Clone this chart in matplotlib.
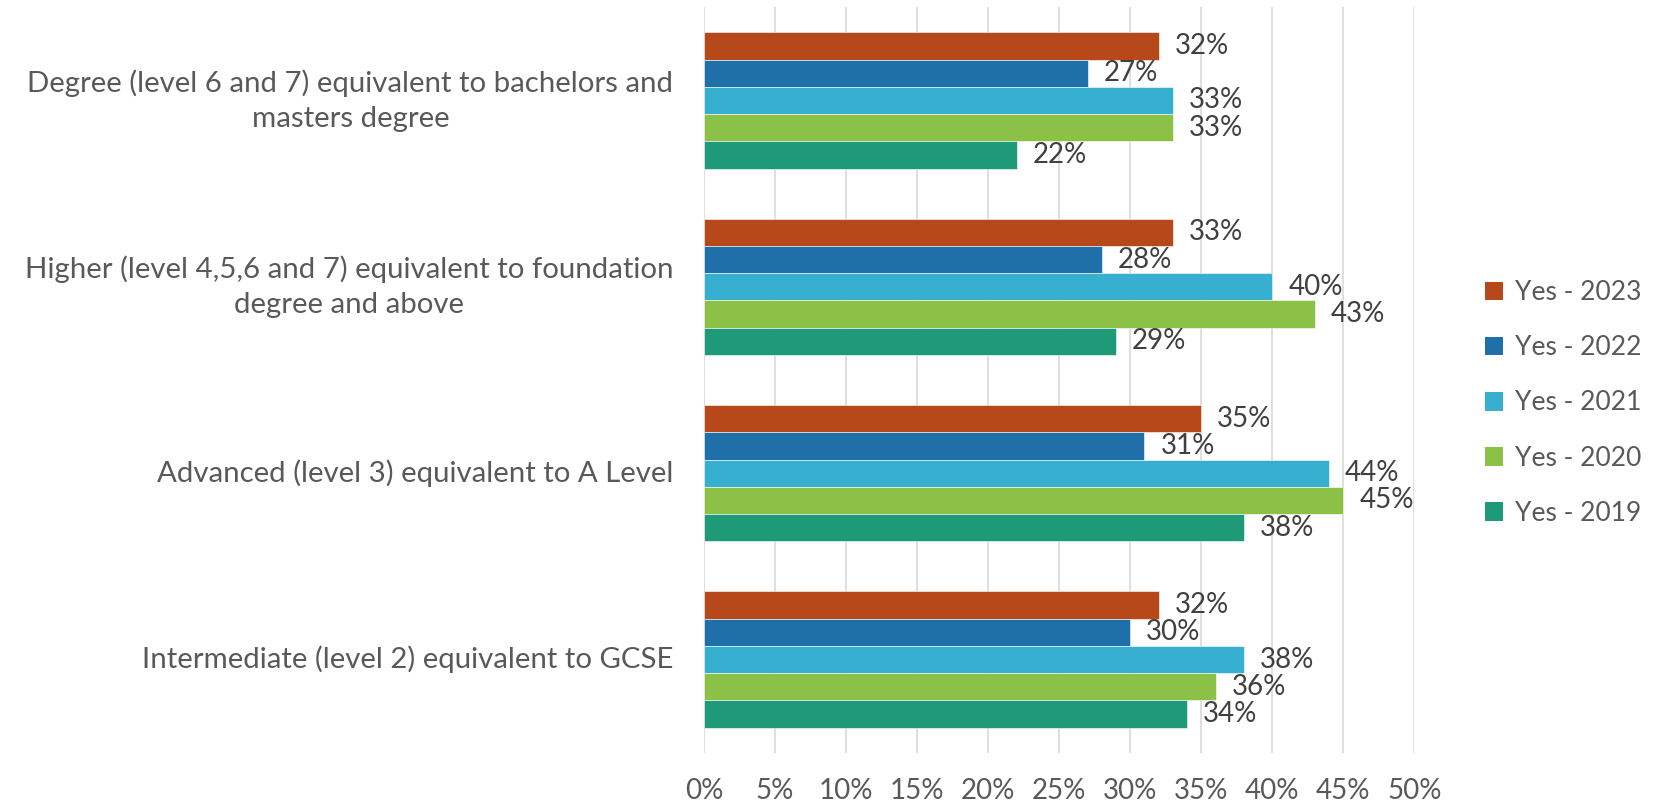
import numpy as np
import matplotlib.pyplot as plt
from matplotlib.patches import Patch

# ------------- data -------------#
categories = [
    "Degree (level 6 and 7) equivalent to bachelors and\nmasters degree",
    "Higher (level 4,5,6 and 7) equivalent to foundation\ndegree and above",
    "Advanced (level 3) equivalent to A Level",
    "Intermediate (level 2) equivalent to GCSE",
]
series_names = ["Yes - 2023", "Yes - 2022", "Yes - 2021", "Yes - 2020", "Yes - 2019"]
yes_2023 = [32, 33, 35, 32]
yes_2022 = [27, 28, 31, 30]
yes_2021 = [33, 40, 44, 38]
yes_2020 = [33, 43, 45, 36]
yes_2019 = [22, 29, 38, 34]
x_ticks = [0, 5, 10, 15, 20, 25, 30, 35, 40, 45, 50]

colors = ["#B7481A", "#1F6FA8", "#36AFD0", "#8CC147", "#1E9A78"]
text_grey = "#595959"
label_grey = "#404040"

plt.rcParams['font.family'] = ['Lato', 'DejaVu Sans']


def main():
    fig = plt.figure(figsize=(16.68, 8.06), dpi=100)
    ax = fig.add_axes([0.422, 0.066, 0.426, 0.925])

    all_series = [yes_2023, yes_2022, yes_2021, yes_2020, yes_2019]
    y = np.arange(len(categories))
    h = 0.1462

    for j, (vals, col) in enumerate(zip(all_series, colors)):
        pos = y + (j - 2) * h
        bars = ax.barh(pos, vals, height=h, color=col, edgecolor="white", linewidth=0.4, zorder=3)
        for b, v in zip(bars, vals):
            ax.annotate(f"{v}%", (b.get_width(), b.get_y() + b.get_height() / 2),
                        xytext=(11.5, 0), textcoords="offset points",
                        va="center", ha="left", fontsize=20, color=label_grey, zorder=4)

    ax.set_xlim(0, 50)
    ax.set_ylim(len(categories) - 0.5, -0.5)
    ax.set_xticks(x_ticks)
    ax.set_xticklabels([f"{t}%" for t in x_ticks])
    ax.set_yticks(y)
    ax.set_yticklabels(categories, ha="right", va="center", multialignment="center",
                       fontsize=21.2, linespacing=1.45)
    ax.tick_params(axis="both", length=0, labelcolor=text_grey)
    ax.tick_params(axis="x", pad=18, labelsize=20)
    ax.tick_params(axis="y", pad=22)
    ax.grid(axis="x", color="#D9D9D9", linewidth=1.2, zorder=0)
    for s in ax.spines.values():
        s.set_visible(False)

    handles = [Patch(facecolor=c, edgecolor="none") for c in colors]
    fig.legend(handles, series_names, loc="center left", bbox_to_anchor=(0.876, 0.5),
               frameon=False, fontsize=19, labelcolor=text_grey,
               handlelength=0.7, handleheight=0.7, handletextpad=0.45, labelspacing=1.14)

    fig.savefig("out.png", dpi=100)


if __name__ == "__main__":
    main()
